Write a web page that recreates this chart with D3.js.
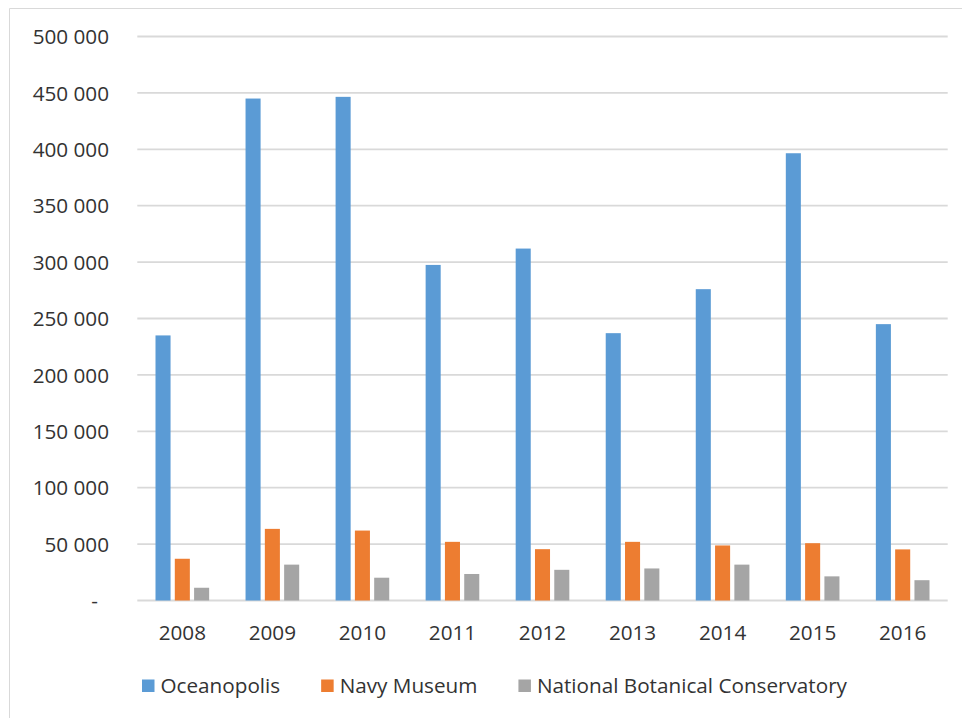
<!DOCTYPE html>
<html>
<head>
<meta charset="utf-8">
<script src="https://cdn.jsdelivr.net/npm/d3@7"></script>
<style>
  html, body { margin: 0; padding: 0; background: #ffffff; }
  svg text { font-family: "Open Sans", "Liberation Sans", sans-serif; }
</style>
</head>
<body>
<svg id="chart" width="962" height="718"></svg>
<script>
const years = ["2008", "2009", "2010", "2011", "2012", "2013", "2014", "2015", "2016"];
const seriesNames = ["Oceanopolis", "Navy Museum", "National Botanical Conservatory"];
const oceanopolis = [235000, 445000, 446500, 297500, 312000, 237000, 276000, 396500, 245000];
const navyMuseum = [37000, 63500, 62000, 52000, 45500, 52000, 48800, 50800, 45300];
const botanical = [11300, 31800, 20200, 23500, 27200, 28400, 31800, 21400, 18000];
const yTicks = [0, 50000, 100000, 150000, 200000, 250000, 300000, 350000, 400000, 450000, 500000];
const colors = ["#5b9bd5", "#ed7d31", "#a5a5a5"];

const seriesValues = [oceanopolis, navyMuseum, botanical];
const svg = d3.select("#chart");
const FS = 20.7;
const TXT = "#333333";

// outer frame (chart border)
svg.append("path")
  .attr("d", "M9.5,718 V8.5 H962")
  .attr("fill", "none")
  .attr("stroke", "#d9d9d9")
  .attr("stroke-width", 1);

const plot = { left: 137.3, right: 947.7, top: 36.5, bottom: 600.5 };

const x0 = d3.scaleBand().domain(years).range([plot.left, plot.right]).paddingInner(0).paddingOuter(0);
const groupInset = 18.2;
const x1 = d3.scaleBand().domain(d3.range(seriesNames.length))
  .range([groupInset, x0.bandwidth() - groupInset])
  .paddingInner(0.22).paddingOuter(0);
const y = d3.scaleLinear().domain([0, 500000]).range([plot.bottom, plot.top]);

const fmt = v => v === 0 ? "-" : d3.format(",")(v).replace(/,/g, " ");

// gridlines
svg.append("g").selectAll("line")
  .data(yTicks)
  .join("line")
  .attr("x1", plot.left).attr("x2", plot.right)
  .attr("y1", d => y(d)).attr("y2", d => y(d))
  .attr("stroke", "#d9d9d9")
  .attr("stroke-width", 1.8);

// y axis labels
const yAxis = d3.axisLeft(y).tickValues(yTicks).tickSize(0).tickFormat(fmt);
const yg = svg.append("g").attr("transform", "translate(109,0)").call(yAxis);
yg.select(".domain").remove();
yg.selectAll("text")
  .attr("x", 0)
  .attr("dy", "0.35em")
  .attr("font-size", FS)
  .attr("font-family", "'Open Sans', sans-serif")
  .attr("fill", TXT)
  .attr("text-anchor", "end");
yg.selectAll(".tick").filter(d => d === 0).select("text")
  .attr("x", -11);

// bars
const groups = svg.append("g").selectAll("g")
  .data(years)
  .join("g")
  .attr("transform", d => `translate(${x0(d)},0)`);

groups.selectAll("rect")
  .data((d, i) => seriesValues.map((arr, s) => ({ s, v: arr[i] })))
  .join("rect")
  .attr("x", d => x1(d.s))
  .attr("width", x1.bandwidth())
  .attr("y", d => y(d.v))
  .attr("height", d => y(0) - y(d.v))
  .attr("fill", d => colors[d.s]);

// x axis labels
const xAxis = d3.axisBottom(x0).tickSize(0).tickPadding(0);
const xg = svg.append("g").attr("transform", `translate(0,${plot.bottom})`).call(xAxis);
xg.select(".domain").remove();
xg.selectAll("text")
  .attr("y", 32)
  .attr("dy", "0.35em")
  .attr("font-size", FS)
  .attr("font-family", "'Open Sans', sans-serif")
  .attr("fill", TXT);

// legend
const legend = svg.append("g").attr("transform", "translate(142,686)");
let cursor = 0;
seriesNames.forEach((name, i) => {
  const item = legend.append("g").attr("transform", `translate(${cursor},0)`);
  item.append("rect")
    .attr("x", 0).attr("y", -6.5)
    .attr("width", 12.5).attr("height", 12.5)
    .attr("fill", colors[i]);
  const t = item.append("text")
    .attr("x", 18.5).attr("y", 0)
    .attr("dy", "0.35em")
    .attr("font-size", FS)
    .attr("fill", TXT)
    .text(name);
  cursor += 18.5 + t.node().getComputedTextLength() + 41;
});
</script>
</body>
</html>
